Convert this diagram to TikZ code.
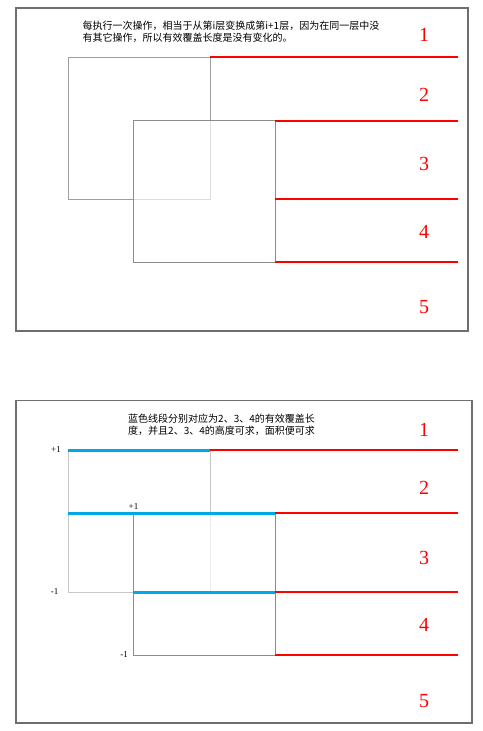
\documentclass[tikz,border=0pt]{standalone}
\usepackage{fontspec}
\setmainfont{Liberation Serif}
\newfontfamily\cjk{Noto Sans CJK SC}
\usepackage{tikz}
\usetikzlibrary{positioning}
\definecolor{layerred}{HTML}{FF0000}
\definecolor{coverblue}{HTML}{00A8E8}
\definecolor{framegray}{HTML}{6E6E6E}

\begin{document}
\begin{tikzpicture}[x=1pt, y=-1pt,
    panel/.style={draw=framegray, line width=1.2pt},
    oldrect/.style={draw=black!38, line width=1pt},
    newrect/.style={draw=black!45, line width=1pt, fill=white, fill opacity=0.65},
    layer/.style={draw=layerred, line width=2pt},
    cover/.style={draw=coverblue, line width=3pt},
    layerno/.style={text=layerred, inner sep=0pt, font=\fontsize{20}{24}\selectfont},
    note/.style={anchor=north west, inner sep=0pt, align=left, font=\cjk\fontsize{10}{12}\selectfont},
    sidelabel/.style={inner sep=0pt, font=\fontsize{9}{10}\selectfont}]
    \useasboundingbox (0,0) rectangle (482,731);

    \draw[panel] (16,8) rectangle (468,331);
    \node[note] (notetop) at (82.5,20.5) {每执行一次操作，相当于从第i层变换成第i+1层，因为在同一层中没\\有其它操作，所以有效覆盖长度是没有变化的。};
    \draw[oldrect] (68,57) rectangle (210,199);
    \draw[newrect] (133,120.5) rectangle (275,262);
    \draw[layer] (210,57) -- (457.5,57);
    \foreach \y in {120.5,199,262}
        \draw[layer] (275,\y) -- (457.5,\y);
    \foreach \n/\y in {1/35,2/95,3/164,4/231.5,5/307.5}
        \node[layerno] (top\n) at (424,\y) {\n};

    \draw[panel] (16,400.5) rectangle (472,723);
    \node[note] (notebottom) at (128,413.5) {蓝色线段分别对应为2、3、4的有效覆盖长\\度，并且2、3、4的高度可求，面积便可求};
    \draw[oldrect, draw=black!22] (68,450) rectangle (210,592);
    \draw[newrect] (133,513) rectangle (275,655);
    \draw[layer] (210,450) -- (457.5,450);
    \foreach \y in {513,592,655}
        \draw[layer] (275,\y) -- (457.5,\y);
    \draw[cover] (68,450) -- (210,450);
    \draw[cover] (68,513) -- (275,513);
    \draw[cover] (133,592) -- (275,592);
    \foreach \n/\y in {1/429.5,2/487.5,3/557.5,4/625,5/701}
        \node[layerno] (bottom\n) at (424,\y) {\n};
    \node[sidelabel, anchor=east] (plusa) at (61,450) {+1};
    \node[sidelabel] (plusb) at (133.5,506.5) {+1};
    \node[sidelabel, anchor=east] (minusa) at (58.5,592) {-1};
    \node[sidelabel, anchor=east] (minusb) at (128,655) {-1};
\end{tikzpicture}
\end{document}
